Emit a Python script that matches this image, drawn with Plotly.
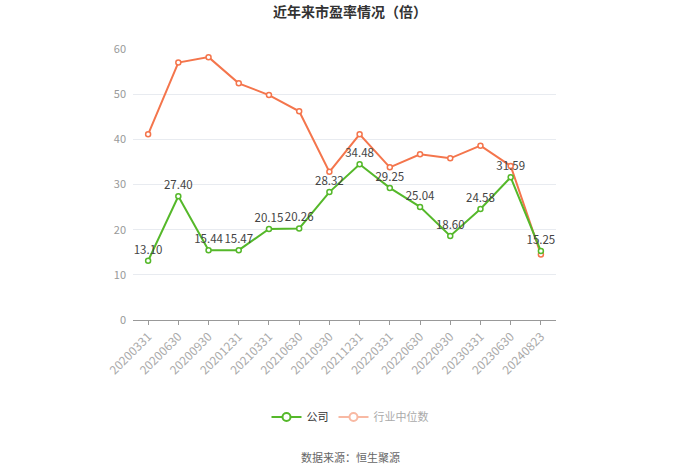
import plotly.graph_objects as go

categories = ["20200331", "20200630", "20200930", "20201231", "20210331", "20210630",
              "20210930", "20211231", "20220331", "20220630", "20220930", "20230331",
              "20230630", "20240823"]
company = [13.10, 27.40, 15.44, 15.47, 20.15, 20.26, 28.32, 34.48, 29.25, 25.04,
           18.60, 24.58, 31.59, 15.25]
industry = [41.1, 57.0, 58.2, 52.4, 49.8, 46.2, 32.8, 41.1, 33.8, 36.7, 35.8, 38.6,
            34.1, 14.5]
y_ticks = [0, 10, 20, 30, 40, 50, 60]

GREEN = "#55b82a"
ORANGE = "#f4754c"

fig = go.Figure()
fig.add_trace(go.Scatter(
    x=categories, y=industry, mode="lines+markers", name="行业中位数",
    line=dict(color=ORANGE, width=2),
    marker=dict(symbol="circle", size=5, color="white", line=dict(color=ORANGE, width=1.5)),
    showlegend=False, hoverinfo="skip"))
fig.add_trace(go.Scatter(
    x=categories, y=company, mode="lines+markers+text", name="公司",
    line=dict(color=GREEN, width=2),
    marker=dict(symbol="circle", size=5, color="white", line=dict(color=GREEN, width=1.5)),
    text=[f"{v:.2f}" for v in company], textposition="top center",
    textfont=dict(size=11.5, color="#444"),
    showlegend=False, hoverinfo="skip"))
# legend entries
fig.add_trace(go.Scatter(
    x=[None], y=[None], mode="lines+markers", name="公司",
    line=dict(color=GREEN, width=2),
    marker=dict(symbol="circle", size=8, color="white", line=dict(color=GREEN, width=2))))
fig.add_trace(go.Scatter(
    x=[None], y=[None], mode="lines+markers",
    name="<span style='color:#aaaaaa'>行业中位数</span>",
    line=dict(color="#f8b9a3", width=2),
    marker=dict(symbol="circle", size=8, color="white", line=dict(color="#f8b9a3", width=2))))

plot_h = 474 - 49 - 154
fig.update_layout(
    width=700, height=474,
    margin=dict(l=133, r=144, t=49, b=154, autoexpand=False),
    paper_bgcolor="white", plot_bgcolor="white",
    font=dict(family="Noto Sans CJK SC, sans-serif", size=11, color="#999"),
    title=dict(text="<b>近年来市盈率情况（倍）</b>", x=0.5, xanchor="center",
               y=1 - 12 / 474, yanchor="middle", font=dict(size=14, color="#333")),
    xaxis=dict(type="category", tickangle=-45, showgrid=False, showline=True,
               linecolor="#999", linewidth=1, ticks="outside", ticklen=4,
               tickcolor="#999", tickfont=dict(size=12, color="#aaa"),
               range=[-0.5, len(categories) - 0.5], automargin=False),
    yaxis=dict(range=[0, 60], tickvals=y_ticks, showgrid=True, gridcolor="#e8ebf0",
               zeroline=False, showline=False, tickfont=dict(size=11, color="#999"),
               ticklabelstandoff=6, automargin=False),
    legend=dict(orientation="h", x=(350 - 133) / 423, xanchor="center",
                y=(320 - 417) / plot_h, yanchor="middle",
                font=dict(size=11, color="#333"), itemwidth=30),
    showlegend=True,
)
fig.add_annotation(text="数据来源：恒生聚源", xref="paper", yref="paper",
                   x=(350 - 133) / 423, y=(320 - 457) / plot_h, xanchor="center",
                   yanchor="middle", showarrow=False, font=dict(size=11, color="#666"))

fig.write_html("out.html", config={"displayModeBar": False},
               post_script="document.body.style.margin='0';")
